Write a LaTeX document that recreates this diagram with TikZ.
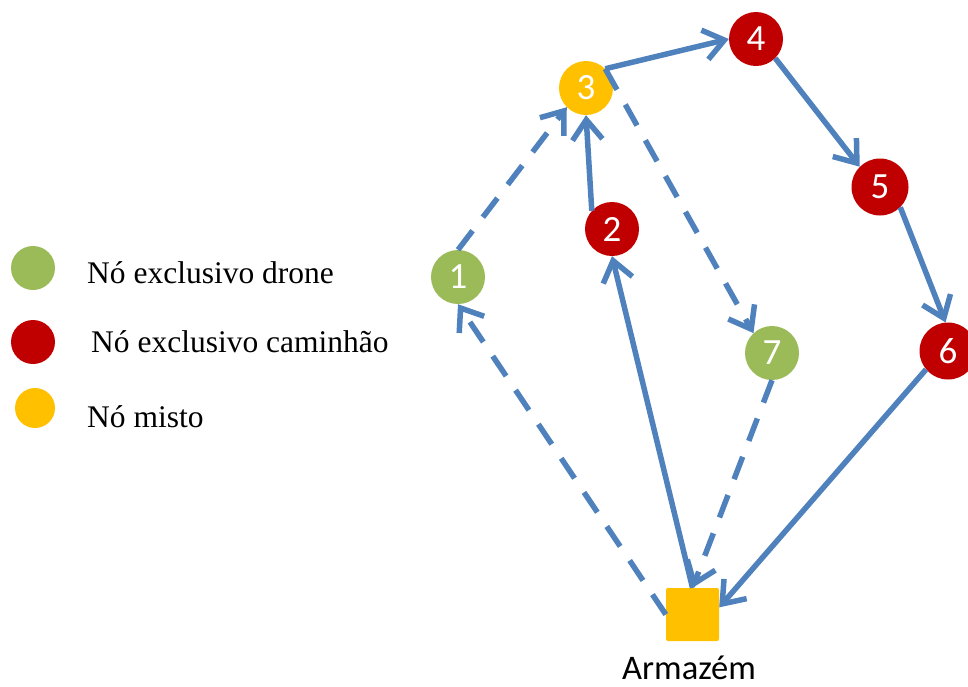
\documentclass[tikz,border=0pt]{standalone}
\usepackage{fontspec}
\setmainfont{Liberation Serif}
\newfontfamily\calib{Carlito}
\usetikzlibrary{arrows.meta}
\definecolor{cred}{HTML}{C00000}
\definecolor{cgreen}{HTML}{9BBB59}
\definecolor{cyellow}{HTML}{FFC000}
\definecolor{cblue}{HTML}{4F81BD}
\begin{document}
\begin{tikzpicture}[x=1pt,y=-1pt,
  nd/.style={circle, minimum size=54pt, inner sep=0pt, text=white,
    font=\calib\fontsize{37}{37}\selectfont},
  lgdot/.style={circle, inner sep=0pt},
  lgtext/.style={anchor=base west, inner sep=0pt, font=\fontsize{31.5}{31.5}\selectfont},
  edge/.style={draw=cblue, line width=5.5pt,
    -{Straight Barb[length=20pt,width=30pt]}},
  dsh/.style={dash pattern=on 24pt off 17pt}]
\useasboundingbox (0,0) rectangle (968,686);
% nodes
\node[nd, fill=cyellow] (n3) at (586,88) {3};
\node[nd, fill=cred] (n4) at (756,39) {4};
\node[nd, fill=cred, minimum size=57pt] (n5) at (880,187) {5};
\node[nd, fill=cred, minimum size=57pt] (n6) at (948,351) {6};
\node[nd, fill=cred] (n2) at (612,229) {2};
\node[nd, fill=cgreen] (n1) at (458,277) {1};
\node[nd, fill=cgreen] (n7) at (772,353) {7};
\node[rectangle, fill=cyellow, minimum size=53pt, inner sep=0pt, rounded corners=2pt] (arm) at (692.5,614.5) {};
\node[anchor=base, inner sep=0pt, font=\calib\fontsize{34.5}{34.5}\selectfont] (lab) at (689,679) {Armazém};
% legend
\node[lgdot, fill=cgreen, minimum size=44pt] (lg) at (33,268) {};
\node[lgdot, fill=cred, minimum size=44pt] (lr) at (33,342) {};
\node[lgdot, fill=cyellow, minimum size=40pt] (ly) at (35,408) {};
\node[lgtext] (tg) at (87,283) {Nó exclusivo drone};
\node[lgtext] (tr) at (91,352) {Nó exclusivo caminhão};
\node[lgtext] (ty) at (87,427) {Nó misto};
% edges
\draw[edge] (n3.45) -- (n4.west);
\draw[edge] (n4.-45) -- (n5.135);
\draw[edge] (n5.-45) -- (n6.95);
\draw[edge] (n6.220) -- (arm.15);
\draw[edge] (arm.north) -- (n2.south);
\draw[edge] (n2.138) -- (n3.south);
\draw[edge,dsh] (n1.north) -- (n3.225);
\draw[edge,dsh] (arm.west) -- (n1.south);
\draw[edge,dsh] (n3.45) -- (n7.133);
\draw[edge,dsh] (n7.south) -- (arm.north);
\end{tikzpicture}
\end{document}
